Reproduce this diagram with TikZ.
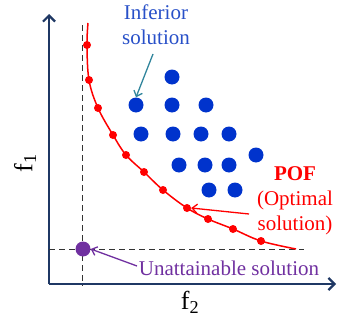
\documentclass[tikz,border=0pt]{standalone}
\usepackage{fontspec}
\setmainfont{Liberation Serif}
\usetikzlibrary{arrows.meta}
\definecolor{axisblue}{HTML}{1F3864}
\definecolor{dotblue}{HTML}{0033CC}
\definecolor{txtblue}{HTML}{2850C8}
\definecolor{arrteal}{HTML}{31859C}
\definecolor{purp}{HTML}{7030A0}
\definecolor{pofred}{HTML}{FF0000}
\tikzset{
  axis/.style={axisblue, line width=2.2pt, -{Straight Barb[length=6pt,width=12pt,line width=2.2pt]}},
  guide/.style={black!80, line width=1pt, dash pattern=on 6pt off 4pt},
  bdot/.style={circle, fill=dotblue, inner sep=0pt, minimum size=15pt},
  rdot/.style={circle, fill=pofred, inner sep=0pt, minimum size=8pt},
  pdot/.style={circle, fill=purp, inner sep=0pt, minimum size=15pt},
  lbl/.style={font=\fontsize{21}{25}\selectfont, align=center, inner sep=0pt},
  callout/.style={line width=1.3pt, -{Straight Barb[length=5pt,width=9pt,line width=1.3pt]}},
}
\begin{document}
\begin{tikzpicture}[x=1pt,y=-1pt]
\useasboundingbox (0,0) rectangle (338,324);
% axes
\coordinate (O) at (49,284);
\coordinate (ytop) at (49,14);
\coordinate (xend) at (336,284);
\draw[axis] (O) -- (ytop);
\draw[axis] (O) -- (xend);
% dashed guides
\coordinate (vtop) at (82,25);
\coordinate (vbot) at (82,286);
\coordinate (hl) at (49,249);
\coordinate (hr) at (304,249);
\draw[guide] (vtop) -- (vbot);
\draw[guide] (hl) -- (hr);
% POF curve
\draw[pofred, line width=1.5pt] plot[smooth, tension=0.6] coordinates {(88,23) (87,45) (89,80) (98,108) (113,135) (126,155) (144,172) (163,190) (187,208) (208,219) (233,229) (261,241) (296,249)};
\foreach \p [count=\i] in {(87,45),(89,80),(98,108),(113,135),(126,155),(144,172),(163,190),(187,208),(208,219),(233,229),(261,241)}
  \node[rdot] (r\i) at \p {};
% inferior dots
\foreach \p [count=\i] in {(172,77),(136,105),(172,105),(206,105),(141,134),(173,134),(201,134),(229,134),(256,155),(179,165),(205,165),(229,165),(209,190),(235,190)}
  \node[bdot] (b\i) at \p {};
% unattainable point
\node[pdot] (ideal) at (83,249) {};
% labels
\node[lbl, txtblue] (inf) at (156,25) {Inferior\\solution};
\node[lbl, pofred] (pof) at (295,201) {\textbf{POF}\\(Optimal\\solution)};
\node[lbl, purp, anchor=base] (unat) at (229,275) {Unattainable solution};
\node[font=\fontsize{26}{26}\selectfont, rotate=90] (f1) at (25,163) {f\textsubscript{1}};
\node[font=\fontsize{26}{26}\selectfont] (f2) at (190,302) {f\textsubscript{2}};
% callouts
\coordinate (infs) at (153,54);
\coordinate (pofs) at (249,214);
\coordinate (unats) at (137,266);
\draw[callout, arrteal] (infs) -- (b2.north);
\draw[callout, pofred] (pofs) -- (r8.east);
\draw[callout, purp] (unats) -- (ideal.east);
\end{tikzpicture}
\end{document}
